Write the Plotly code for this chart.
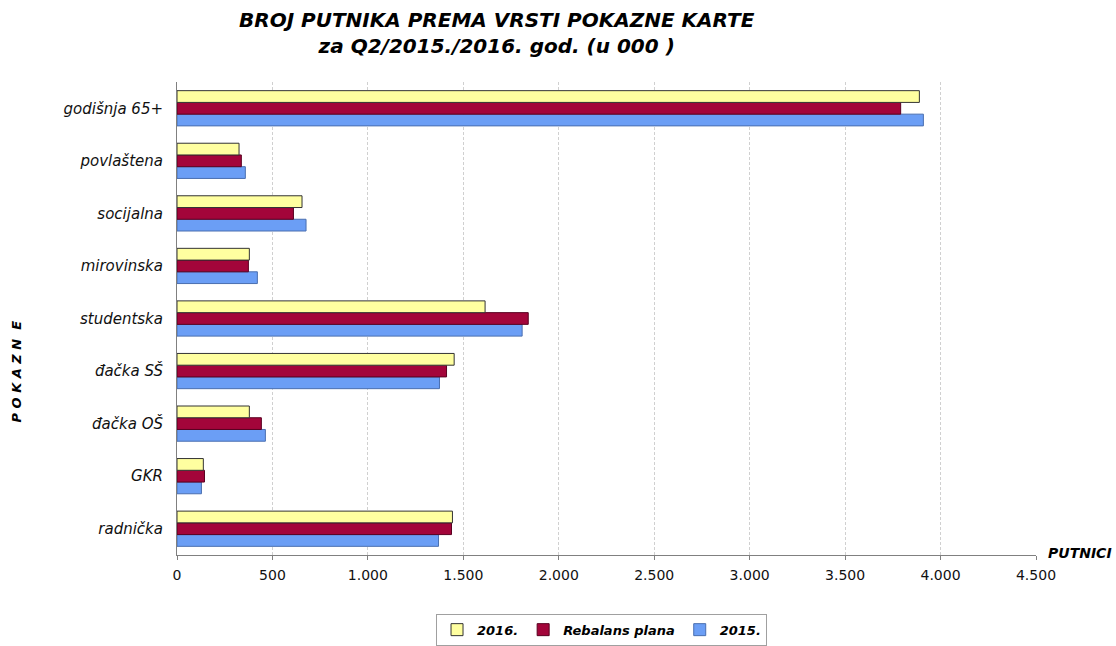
import plotly.graph_objects as go

categories = ["radnička", "GKR", "đačka OŠ", "đačka SŠ", "studentska",
              "mirovinska", "socijalna", "povlaštena", "godišnja 65+"]
v2016 = [1443, 138, 379, 1452, 1614, 379, 655, 325, 3889]
vreb = [1438, 144, 442, 1412, 1840, 374, 610, 337, 3791]
v2015 = [1370, 128, 463, 1375, 1808, 421, 676, 358, 3910]
tick_vals = [0, 500, 1000, 1500, 2000, 2500, 3000, 3500, 4000, 4500]
tick_text = ["0", "500", "1.000", "1.500", "2.000", "2.500", "3.000", "3.500", "4.000", "4.500"]

fig = go.Figure()
fig.add_trace(go.Bar(y=categories, x=v2015, name="<b><i>2015.</i></b>", orientation="h",
                     marker=dict(color="#6B9EF5", line=dict(color="#4A6FB0", width=1))))
fig.add_trace(go.Bar(y=categories, x=vreb, name="<b><i>Rebalans plana</i></b>", orientation="h",
                     marker=dict(color="#A3053A", line=dict(color="#5A0020", width=1))))
fig.add_trace(go.Bar(y=categories, x=v2016, name="<b><i>2016.</i></b>", orientation="h",
                     marker=dict(color="#FFFFA0", line=dict(color="#333333", width=1))))

ff = "DejaVu Sans, Arial, sans-serif"
fig.update_layout(
    width=1116, height=646,
    paper_bgcolor="white", plot_bgcolor="white",
    barmode="group", bargap=0.33, bargroupgap=0,
    margin=dict(l=177, r=80, t=82, b=91, autoexpand=False),
    font=dict(family=ff, size=14, color="#000"),
    legend=dict(orientation="h", xref="container", yref="container",
                x=0.539, xanchor="center", y=0.05, yanchor="top",
                traceorder="reversed", bordercolor="#A0A0A0", borderwidth=1,
                font=dict(size=13, family=ff, color="#000"),
                itemwidth=30),
    xaxis=dict(range=[0, 4500], tickvals=tick_vals, ticktext=tick_text,
               showgrid=True, gridcolor="#D0D0D0", griddash="3px,2px", gridwidth=1,
               showline=True, linecolor="#808080", linewidth=1,
               ticks="outside", ticklen=4, tickcolor="#808080", ticklabelstandoff=3,
               zeroline=False, tickfont=dict(size=14, color="#111"), automargin=False),
    yaxis=dict(showline=True, linecolor="#808080", linewidth=1,
               ticks="", showgrid=False, tickfont=dict(size=15, color="#111"),
               tickvals=categories, ticktext=[f"<i>{c}</i>" for c in categories],
               ticklabelstandoff=10, automargin=False),
)

fig.add_annotation(text="<b><i>BROJ PUTNIKA PREMA VRSTI POKAZNE KARTE<br>za Q2/2015./2016. god. (u 000 )</i></b>",
                   xref="paper", yref="paper", x=0.373, xanchor="center",
                   y=1, yanchor="bottom", yshift=22, showarrow=False,
                   font=dict(size=20, family=ff))
fig.add_annotation(text="<b><i>PUTNICI</i></b>", xref="paper", yref="paper",
                   x=1.0, xanchor="left", xshift=10, y=0, yanchor="middle", yshift=2,
                   showarrow=False, font=dict(size=14, family=ff))
fig.add_annotation(text="<b><i>P O K A Z N  E</i></b>", xref="paper", yref="paper",
                   x=0, xshift=-151, xanchor="right", y=0.387, textangle=-90,
                   showarrow=False, font=dict(size=13, family=ff))

fig.write_html("out.html", config={"displayModeBar": False},
               post_script="document.body.style.margin='0';")
